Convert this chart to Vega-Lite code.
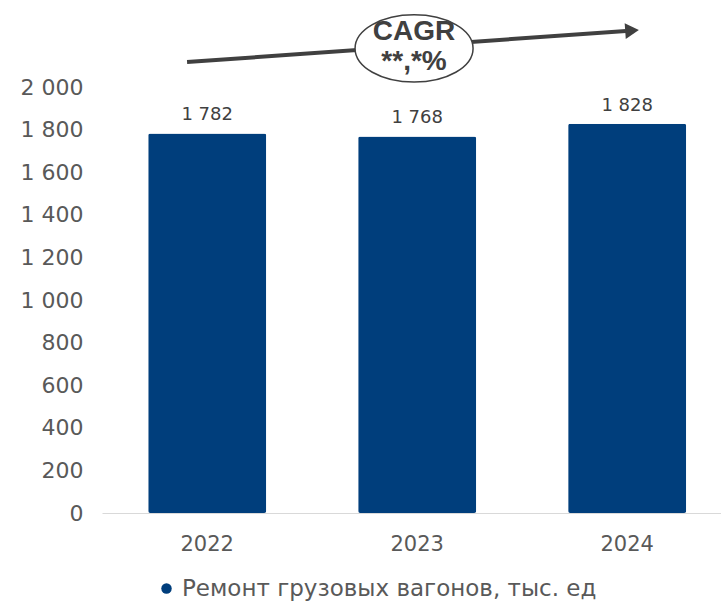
{
  "$schema": "https://vega.github.io/schema/vega-lite/v6.json",
  "autosize": {"type": "none"},
  "padding": {"left": 102, "top": 87, "right": 0, "bottom": 89},
  "width": 619,
  "height": 426,
  "background": "white",
  "config": {
    "view": {"stroke": null},
    "font": "DejaVu Sans"
  },
  "datasets": {
    "bars": [
      {"year": "2022", "value": 1782, "series": "Ремонт грузовых вагонов, тыс. ед"},
      {"year": "2023", "value": 1768, "series": "Ремонт грузовых вагонов, тыс. ед"},
      {"year": "2024", "value": 1828, "series": "Ремонт грузовых вагонов, тыс. ед"}
    ],
    "arrow": [
      {"x": 2021.905, "y": 2117},
      {"x": 2023.995, "y": 2263}
    ],
    "head": [
      {"x": 2024.024, "y": 2265}
    ],
    "oval": [
      {"x": 2022.986, "y": 2181}
    ],
    "notes": [
      {"x": 2022.986, "y": 2221, "label": "CAGR"},
      {"x": 2022.986, "y": 2080, "label": "**,*%"}
    ]
  },
  "layer": [
    {
      "data": {"name": "bars"},
      "transform": [
        {"calculate": "replace(format(datum.value, ','), ',', ' ')", "as": "label"}
      ],
      "encoding": {
        "x": {
          "field": "year",
          "type": "nominal",
          "scale": {"paddingInner": 0.438, "paddingOuter": 0.193, "align": 0.57},
          "axis": {
            "title": null,
            "labelAngle": 0,
            "ticks": false,
            "domainColor": "#d9d9d9",
            "domainWidth": 1,
            "labelFontSize": 21,
            "labelColor": "#595959",
            "labelPadding": 20
          }
        },
        "y": {
          "field": "value",
          "type": "quantitative",
          "scale": {"domain": [0, 2000], "nice": false},
          "axis": {
            "title": null,
            "values": [0, 200, 400, 600, 800, 1000, 1200, 1400, 1600, 1800, 2000],
            "labelExpr": "replace(format(datum.value, ','), ',', ' ')",
            "domain": false,
            "ticks": false,
            "grid": false,
            "labelFontSize": 22,
            "labelColor": "#595959",
            "labelPadding": 19
          }
        }
      },
      "layer": [
        {
          "mark": {"type": "bar", "cornerRadius": 2},
          "encoding": {
            "color": {
              "field": "series",
              "type": "nominal",
              "scale": {"range": ["#003e7c"]},
              "legend": {
                "title": null,
                "orient": "none",
                "legendX": 53,
                "legendY": 490,
                "symbolType": "circle",
                "symbolSize": 110,
                "labelFontSize": 23,
                "labelColor": "#595959",
                "labelFont": "DejaVu Sans",
                "labelLimit": 600
              }
            }
          }
        },
        {
          "mark": {"type": "text", "baseline": "bottom", "dy": -9, "fontSize": 18, "color": "#404040"},
          "encoding": {"text": {"field": "label"}}
        }
      ]
    },
    {
      "encoding": {
        "x": {
          "field": "x",
          "type": "quantitative",
          "scale": {"domain": [2021.5, 2024.4476], "nice": false, "zero": false},
          "axis": null
        },
        "y": {
          "field": "y",
          "type": "quantitative",
          "scale": {"domain": [0, 2000], "nice": false},
          "title": null
        }
      },
      "layer": [
        {
          "data": {"name": "arrow"},
          "mark": {"type": "line", "color": "#404040", "strokeWidth": 4}
        },
        {
          "data": {"name": "head"},
          "mark": {"type": "point", "shape": "triangle-right", "filled": true, "color": "#404040", "size": 250, "angle": -4, "opacity": 1}
        },
        {
          "data": {"name": "oval"},
          "mark": {
            "type": "point",
            "shape": "M-1,0A1,0.57,0,1,1,1,0A1,0.57,0,1,1,-1,0Z",
            "filled": true,
            "fill": "white",
            "stroke": "#404040",
            "strokeWidth": 1.5,
            "size": 13924,
            "opacity": 1
          }
        },
        {
          "data": {"name": "notes"},
          "mark": {"type": "text", "font": "Liberation Sans", "fontWeight": "bold", "fontSize": 28, "color": "#404040", "baseline": "alphabetic"},
          "encoding": {"text": {"field": "label"}}
        }
      ]
    }
  ],
  "resolve": {"scale": {"x": "independent"}}
}
